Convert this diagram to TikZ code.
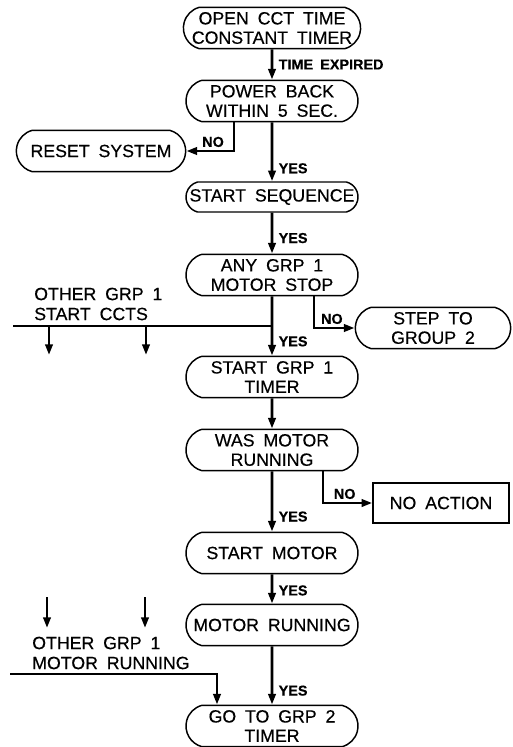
\documentclass[tikz,border=0pt]{standalone}
\usepackage{fontspec}
\setmainfont{Liberation Sans}[WordSpace=1.8,FakeBold=0.4]
\usetikzlibrary{arrows.meta,shapes.misc}

\tikzset{
  flow box/.style={rounded rectangle,rounded rectangle arc length=150,draw,line width=1.1pt,
    minimum width=131pt,minimum height=31pt,inner sep=1pt,align=center,
    font=\fontsize{13.3}{14.5}\selectfont},
  end box/.style={rectangle,draw,line width=1.1pt,minimum width=102pt,minimum height=30pt,
    font=\fontsize{13.3}{14.5}\selectfont},
  note/.style={align=left,inner sep=0pt,font=\fontsize{13.3}{15}\selectfont},
  tag/.style={inner sep=4pt,font=\bfseries\fontsize{10.8}{12}\selectfont},
  flow line/.style={line width=2pt,-{Triangle[length=8pt,width=5.5pt]}},
  feed line/.style={line width=2pt}
}

\begin{document}
\begin{tikzpicture}[x=0.75pt,y=0.75pt]
  \useasboundingbox (0,0) rectangle (513,-747);

  % main column
  \node[flow box] (open) at (272,-28) {OPEN CCT TIME\\CONSTANT TIMER};
  \node[flow box] (power) [below of=open,node distance=54.75pt] {POWER BACK\\WITHIN 5 SEC.};
  \node[flow box,minimum height=22.5pt] (startseq) [below of=power,node distance=72pt] {START SEQUENCE};
  \node[flow box] (anygrp) [below of=startseq,node distance=58.5pt] {ANY GRP 1\\MOTOR STOP};
  \node[flow box] (startgrp) [below of=anygrp,node distance=76.5pt] {START GRP 1\\TIMER};
  \node[flow box] (wasmotor) [below of=startgrp,node distance=54.75pt] {WAS MOTOR\\RUNNING};
  \node[flow box] (startmotor) [below of=wasmotor,node distance=77.25pt] {START MOTOR};
  \node[flow box] (motorrun) [below of=startmotor,node distance=54pt] {MOTOR RUNNING};
  \node[flow box] (goto) [below of=motorrun,node distance=75.75pt] {GO TO GRP 2\\TIMER};

  % side boxes
  \node[flow box,minimum width=129pt] (reset) at (101,-151) {RESET SYSTEM};
  \node[flow box,minimum width=118.5pt] (step) at (433,-328) {STEP TO\\GROUP 2};
  \node[end box] (noaction) at (441,-503) {NO ACTION};

  % inputs from the other circuits
  \node[note,anchor=west] (cctnote) at (34,-304) {OTHER GRP 1\\START CCTS};
  \node[note,anchor=west] (runnote) at (32,-653) {OTHER GRP 1\\MOTOR RUNNING};

  \path[flow line]
    (open) edge node[tag,right,pos=0.5] {TIME EXPIRED} (power)
    (power) edge node[tag,right,pos=0.78] {YES} (startseq)
    (startseq) edge node[tag,right,pos=0.62] {YES} (anygrp)
    (anygrp) edge node[tag,right,pos=0.76] {YES} (startgrp)
    (startgrp) edge (wasmotor)
    (wasmotor) edge node[tag,right,pos=0.75] {YES} (startmotor)
    (startmotor) edge node[tag,right,pos=0.55] {YES} (motorrun)
    (motorrun) edge node[tag,right,pos=0.76] {YES} (goto);

  \draw[flow line] ([xshift=-28.5pt]power.south) |- node[tag,above,pos=0.72,inner sep=2pt] {NO} (reset.east);
  \draw[flow line] ([xshift=31.5pt]anygrp.south) |- node[tag,above,pos=0.72,inner sep=2pt] {NO} (step.west);
  \draw[flow line] ([xshift=38.25pt]wasmotor.south) |- node[tag,above,pos=0.72,inner sep=2pt] {NO} (noaction.west);

  % start circuits bus
  \coordinate (cctfeed) at (13,-326);
  \draw[feed line] (cctfeed) -- (cctfeed -| anygrp.south);
  \foreach \x/\n in {49/a,146/b} {
    \coordinate (ccttop\n) at (\x,-326);
    \coordinate (cctend\n) at (\x,-355);
    \draw[flow line] (ccttop\n) -- (cctend\n);
  }

  % running motors bus
  \foreach \x/\n in {47/a,145/b} {
    \coordinate (runtop\n) at (\x,-597);
    \coordinate (runend\n) at (\x,-628);
    \draw[flow line] (runtop\n) -- (runend\n);
  }
  \coordinate (runfeed) at (10,-674);
  \coordinate (runjoin) at (217,-674);
  \draw[flow line] (runfeed) -- (runjoin) -- (runjoin |- goto.north);
\end{tikzpicture}
\end{document}
